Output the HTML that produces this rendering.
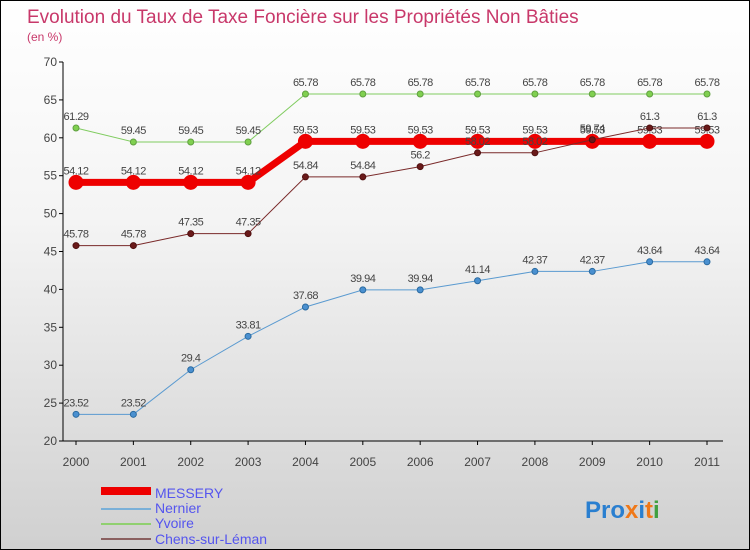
<!DOCTYPE html>
<html><head><meta charset="utf-8"><style>
body{margin:0;width:750px;height:550px;overflow:hidden}
#wrap{position:relative;width:748px;height:548px;border:1px solid #000;background:linear-gradient(#ffffff 0%,#f4f4f4 40%,#d0d0d0 100%);font-family:"Liberation Sans",sans-serif}
</style></head><body>
<div id="wrap">
<svg width="748" height="548" style="position:absolute;left:0;top:0" id="svg">
<text x="26" y="22" font-size="19" fill="#c8386a">Evolution du Taux de Taxe Foncière sur les Propriétés Non Bâties</text>
<text x="26" y="40" font-size="12" fill="#c8386a">(en %)</text>
<g id="axes"></g><g id="series"></g>
<g>
<rect x="100" y="486" width="50" height="8" fill="#ee0000"/>
<text x="154" y="497" font-size="14" fill="#5555ee">MESSERY</text>
<rect x="100" y="507" width="50" height="2" fill="#7ab0d8"/>
<text x="154" y="512" font-size="14" fill="#5555ee">Nernier</text>
<rect x="100" y="522" width="50" height="2" fill="#90d070"/>
<text x="154" y="527" font-size="14" fill="#5555ee">Yvoire</text>
<rect x="100" y="537" width="50" height="2" fill="#8a6060"/>
<text x="154" y="543" font-size="14" fill="#5555ee">Chens-sur-Léman</text>
</g>
<text x="584" y="517" font-size="24" font-weight="bold"><tspan fill="#2a7fd0">Pro</tspan><tspan fill="#f07818">x</tspan><tspan fill="#2a7fd0">i</tspan><tspan fill="#f07818">t</tspan><tspan fill="#40a040">i</tspan></text>
</svg>
</div>
<script>
const years=["2000","2001","2002","2003","2004","2005","2006","2007","2008","2009","2010","2011"];
const yTicks=[20,25,30,35,40,45,50,55,60,65,70];
const messery=[54.12,54.12,54.12,54.12,59.53,59.53,59.53,59.53,59.53,59.53,59.53,59.53];
const nernier=[23.52,23.52,29.4,33.81,37.68,39.94,39.94,41.14,42.37,42.37,43.64,43.64];
const yvoire=[61.29,59.45,59.45,59.45,65.78,65.78,65.78,65.78,65.78,65.78,65.78,65.78];
const chens=[45.78,45.78,47.35,47.35,54.84,54.84,56.2,58.02,58.02,59.74,61.3,61.3];
const NS="http://www.w3.org/2000/svg";
const X=i=>75+i*(706-75)/11;
const Y=v=>440-(v-20)*(440-61)/50;
function mk(t,a,p){const e=document.createElementNS(NS,t);for(const k in a)e.setAttribute(k,a[k]);p.appendChild(e);return e;}
const ax=document.getElementById('axes');
let l=mk('line',{x1:62,y1:61,x2:62,y2:440,stroke:'#000'},ax);


l=mk('line',{x1:62,y1:440,x2:722,y2:440,stroke:'#000'},ax);


yTicks.forEach(v=>{
 const t=mk('text',{x:56,y:Y(v)+4,'font-size':12,fill:'#444','text-anchor':'end'},ax);t.textContent=v;
 
 
 mk('line',{x1:58,y1:Y(v),x2:62,y2:Y(v),stroke:'#000'},ax);
});
years.forEach((y,i)=>{
 const t=mk('text',{x:X(i),y:465,'font-size':12,fill:'#444','text-anchor':'middle'},ax);t.textContent=y;
 
 
 mk('line',{x1:X(i),y1:440,x2:X(i),y2:444,stroke:'#000'},ax);
});
const sg=document.getElementById('series');
function draw(name,data,color,w,r,fill,stroke){
 const g=mk('g',{},sg);
 
 
 const p=mk('polyline',{points:data.map((v,i)=>X(i)+','+Y(v)).join(' '),fill:'none',stroke:color,'stroke-width':w},g);
 
 
 data.forEach((v,i)=>{
  const c=mk('circle',{cx:X(i),cy:Y(v),r:r,fill:fill,stroke:stroke,'stroke-width':1},g);
  
  
  const t=mk('text',{x:X(i),y:Y(v)-8,'font-size':11,fill:'#444','text-anchor':'middle','letter-spacing':'-0.5'},g);
  t.textContent=v;
  
  
 });
}
draw('nernier',nernier,'#5a9ad0',1,3,'#4a90d0','#2a6aa0');
draw('yvoire',yvoire,'#80cc60',1,3,'#80d050','#60a040');
draw('messery',messery,'#ee0000',7,7,'#ee0000','#ee0000');
draw('chens',chens,'#7a2a2a',1,3,'#6a1a1a','#501010');
</script>
</body></html>
